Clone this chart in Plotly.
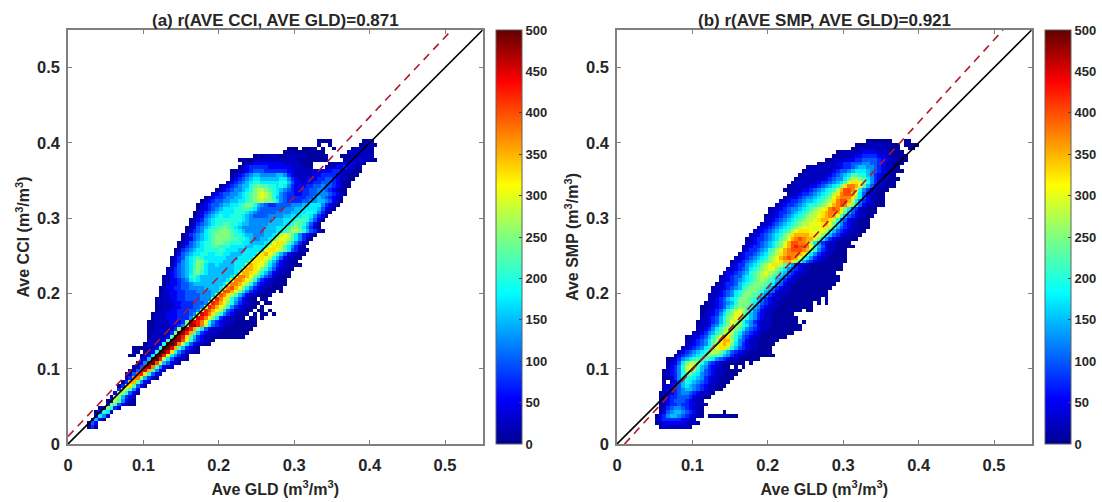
import plotly.graph_objects as go

W, H = 1102, 502
L, R, T, B = 40, 5, 20, 40
BIN = 0.005
N = 110
FIRST_ROW = 4
tick_vals = [0, 0.1, 0.2, 0.3, 0.4, 0.5]
tick_text = ["0", "0.1", "0.2", "0.3", "0.4", "0.5"]
cbar_ticks = [0, 50, 100, 150, 200, 250, 300, 350, 400, 450, 500]
jet = [[0, "#00008f"], [0.111, "#0000ff"], [0.365, "#00ffff"], [0.5, "#7fff7f"], [0.625, "#ffff00"],
       [0.875, "#ff0000"], [1, "#600000"]]

# Counts, one character per bin.
counts = {"0": 0, "z": 8, "1": 25, "2": 50, "3": 75, "4": 100, "5": 125, "6": 150, "7": 175, "8": 200, "9": 225,
          "a": 250, "b": 275, "c": 300, "d": 325, "e": 350, "f": 375, "g": 400, "h": 425, "i": 450, "j": 475, "k": 500}

# panel (a): rows go upward from y-bin 0.02; (first x-bin index, bins)
rows_a = [
 (5, "z3z"), (5, "z42"), (6, "262z"), (7, "2751"), (7, "z3871"), (8, "z1a831"), (10, "3a9421zz"), (10, "z2b9521z"),
 (11, "1ba6321"), (12, "2ca842z"), (13, "3db952"), (13, "z3cd942z"), (14, "z3ee9521"), (15, "13ffb631z"),
 (15, "z14ghd8421"), (16, "z14hie9521"), (17, "z14ijf95211"), (18, "z25jkgb6421z"), (19, "126kkhb74211z"),
 (16, "zz0z127kkhc7531z"), (17, "zz0zz28kkid85311zz"), (17, "zzzz1128kkie96321z"), (20, "z11128kkjfb74211zz"),
 (21, "111129kkjgc85321zz"), (21, "z111129kjhd963211zzzzzzzzz"), (21, "z111113akjhe9632111zzzzzzzz"),
 (21, "zz111113akjhea742111zzzzzzzz"), (21, "zz11112235ajjhfb743211zzzzzzz"), (21, "zz11112223ajihfc8532111zzzzzz"),
 (22, "z1112223335bihfca73211zzz0zz0z"), (22, "z11122233345bihfda853211zz0z0zz0z"),
 (23, "z11122333445bhgecb743111zz0zz0z"), (23, "zz11122333445bhgecb853211zz0z"),
 (23, "zz111223334445bhgeca853211zz0zz0"), (23, "z11122334444555bhfdb86421zz0zz"),
 (24, "z11223344445556bgfdb964211zzzz"),
 (24, "z112233444555566cggeca753211zzz0z"), (24, "z1223344555566667cfgeca753211zzzz"),
 (25, "z1223445666666667cffecb853211zzzz"), (25, "z12234578766666667cffecb853211zzz"),
 (25, "z123456897666666667cffeca864311zzz"), (26, "12345679a8766666667ceedca864211zz"),
 (26, "z1345679a97666666677ceedca864211zz"), (27, "1245679a976676666777cedcca753211zzz"),
 (27, "z235678aa877776667777cddcb864211zz"), (27, "z134678987777776667777cddcb864211zz"),
 (28, "z245677887788776667777cdecb864211zz"), (28, "z13456778888987776677777cddcb974311z"),
 (29, "z13456788998887777667778cddb97531z"), (29, "z124567889aa9988877666679cddb97531z"),
 (30, "z12456789aaaa998876556679bccb97531z"), (30, "z13456789aaaa988766555667 9bcb975321z"),
 (31, "z13457899aaa98765555566 6778 9bba86431z"), (31, "z1245678 99a9876 5555556 66778 9aa97531z"),
 (32, "z1345678 89988766 5555566 66778 a98642z"), (32, "z1235678 88888876 5555556 667778 998642z"),
 (33, "z124567 87788876 54444555 566777 887532z"), (33, "z123456 777788876 54444455 556677 887531z"),
 (34, "z12345 6777889987 54444445 556677 776421z"), (34, "z12344 566778 9aa8 6543344445 55667 775321z"),
 (35, "z123445566 77 89abbaa975 43333445566 5421z"), (36, "z1233 4556 678 9abcba8 65433333445 654321z"),
 (38, "1234455678 9abcba875 433223344555 4321z"), (39, "z1234556 78abba98765 43223344554321zz"),
 (40, "z1234566 89a9988 78753 22233445 44321zz"), (42, "1234567 887777788 642 21 22334443 21zz"),
 (43, "12345 6776666677 532 1122233443211zz"), (43, "z1234 566555566 532 1111 1223333 211zzz"),
 (43, "zz112 344433 33332 2 1111111 222332 11zzz"),
 (45, "z123333322222211 11zz000z1122321zz"), (46, "z112222222211111zzz0000zz1122211z"),
 (45, "zzzzz11111111111zzzzzzzz0000z111211zz"), (49, "z1z1111zz11111zzzzzz000zzz111111"),
 (57, "zzzzzzzzzzz000000111111z"), (58, "zzz0zzzz0z00z0000z1111z"), (66, "z00z0000000zz11z"), (66, "zzzz00000000z11"),
]

# panel (b): same layout as panel (a)
rows_b = [
 (11, "z1111111z"), (10, "z1222222111z"), (10, "12333332211"), (10, "z23566543211z0zzzzzzzz"),
 (11, "z2456654321z00000z"), (11, "z1345543211z"), (11, "z12334332211z"), (11, "11234443211z"),
 (11, "z12334443211zz"), (11, "z122345543211zz"), (12, "12234566543211zz"), (12, "11234676543211zzz"),
 (12, "z01246876543211zzz"), (12, "z11357887653211zzzz"), (12, "z123589a87543211zzzz"),
 (12, "z12358bca86432111zzzz"), (13, "12358bcb9653211zz0z0z"), (13, "z1247abba8643211zzzzz0z"),
 (13, "z11356789998754 3211zzzzzz"), (15, "z234567 89aa98 6532 11zzzzzzzz"), (16, "z234567 8abba864 3211zzzzzz"),
 (17, "11234578acddb8643211zzzz"), (18, "11234579bdeda753211zzzzz"), (18, "11234579bceeb854211zzzzzz"),
 (18, "z1123468aceda8643211zzzzzzz"), (20, "11235689bcb97543211zzzzzzzz"),
 (21, "1123579abba97543211zzzzzzzzz"), (21, "z1124579abba97542111zzzzzzzz"),
 (21, "z1123468acba86532111zzzzzzz0z"), (22, "1123468abcba8653211zzzzzzz"),
 (22, "z1123579acca8653211zzzzzz"), (22, "z1123468abcb97542111zzzzzzz0zz"),
 (22, "zz11234679aa986532111zzzzzzzzz"), (23, "z11234568aaa97643211zzzzzzzzz0z0z"),
 (24, "11234678aaa986532111zzzzzzzzzz0z"), (24, "z11234578aaa986532111zzzzzzzzzzz"),
 (25, "112345789aaa986542111zzzzzzzzzz"), (25, "z112345689aaa98653211zzzzzzzzzzz"),
 (26, "z123346789aaa98754211zzzzzzzzzzz"), (27, "1123456789aba98653211zzzzzzzzzzz"),
 (27, "z123446789abba98653211zzzzzzzzzz"), (28, "122345689abcba97643211zzzzzzzz"),
 (29, "112345789abcca97543211zzzzzzzzz"), (30, "12335678abcddb9753211zzzzzzzzz"),
 (30, "z123456789abcdeedb9643211zzzzzz0"), (31, "112345678abcefgfec9753211zzzzz"),
 (32, "123345679abdefffeda753211zzzz"), (33, "123345689bcefgggfeb853211zzz"),
 (33, "z123345679aceghggfc964211zzzzz"), (34, "112345679aceggffeb753211zzzz"),
 (34, "z123345679acefgfeeca753211zzzz"), (35, "112345678abdeeeedcca8643211zzz"),
 (36, "1123456789bcdddccccb8643211zzz"), (37, "1223456789abcccccddb9643211zzz"),
 (38, "1123456789abbcccdeca753211zzz"), (39, "1123456789abbcdeedb854211zzz"),
 (39, "z1123456789abbcdefec9643211zz"), (40, "11233456789abcdeffec964211zzz"),
 (40, "z11234556789abcdfgfda74311zzz"), (42, "112334567889abcefgfda74211zzz"),
 (43, "112334566789abdfggeb75321zzz"), (44, "112234556789acefffda74211zz"),
 (45, "z11233456789bdfggeb7421zzz"), (44, "zz111223456789beggfc85311zzz"),
 (45, "z1111122345678adffec964211zzz"), (46, "z11111123345679cddca85321zzz"),
 (47, "z11111112345579bba9753211zzz"), (48, "z1111111234567998865 3211zz"),
 (49, "z111111123445677765432 11zzz"), (50, "z1111111123345665543211zz"),
 (53, "zz111223344455443211zzz"), (55, "zz11112233444432211zzz"),
 (57, "zz111122333322 11zzzz"), (58, "zz111112222111zzzz"),
 (62, "zz11111111zzz00zz"), (63, "zzzz1111zzzz0zzzz"), (66, "zzzzzzz000zz"),
]

title_a = "(a) r(AVE CCI, AVE GLD)=0.871"
title_b = "(b) r(AVE SMP, AVE GLD)=0.921"
ylabel_a = "Ave CCI (m<sup>3</sup>/m<sup>3</sup>)"
ylabel_b = "Ave SMP (m<sup>3</sup>/m<sup>3</sup>)"
xlabel = "Ave GLD (m<sup>3</sup>/m<sup>3</sup>)"
line_x = [0, 0.55]
fit_a_x, fit_a_y = [0, 0.509], [0.01, 0.55]
fit_b_x, fit_b_y = [0.01, 0.512], [0, 0.55]
axis_centers = [(i + 0.5) * BIN for i in range(N)]


def px(p):
    return (p - L) / (W - L - R)


def py(p):
    return 1 - (p - T) / (H - T - B)


def grid(rows):
    z = [[None] * N for _ in range(N)]
    for r, (start, bins) in enumerate(rows):
        for c, ch in enumerate(bins.replace(" ", "")):
            if counts[ch]:
                z[r + FIRST_ROW][start + c] = counts[ch]
    return z


FONT = "Liberation Sans, Arial, sans-serif"
INK = "#262626"
fig = go.Figure()


def panel(n, rows, fx, fy, cax):
    xa, ya = ("x", "y") if n == 1 else ("x2", "y2")
    fig.add_trace(go.Heatmap(x=axis_centers, y=axis_centers, z=grid(rows), coloraxis=cax,
                             xaxis=xa, yaxis=ya, hoverongaps=False))
    fig.add_trace(go.Scatter(x=line_x, y=line_x, mode="lines", xaxis=xa, yaxis=ya,
                             line=dict(color="#000000", width=1.6), showlegend=False))
    fig.add_trace(go.Scatter(x=fx, y=fy, mode="lines", xaxis=xa, yaxis=ya,
                             line=dict(color="#b2182b", width=1.6, dash="8px,6px"), showlegend=False))


panel(1, rows_a, fit_a_x, fit_a_y, "coloraxis")
panel(2, rows_b, fit_b_x, fit_b_y, "coloraxis2")

axis = dict(range=[0, 0.55], tickvals=tick_vals, ticktext=tick_text, ticks="inside", ticklen=4, tickwidth=1,
            tickcolor="#808080", linecolor="#808080", linewidth=1.5, mirror="ticks", showgrid=False, zeroline=False,
            tickfont=dict(family=FONT, size=16.5, color=INK, weight="bold"),
            title_font=dict(family=FONT, size=16, color=INK, weight="bold"))


def cax(x):
    return dict(cmin=0, cmax=500, colorscale=jet, colorbar=dict(
        x=px(x), xanchor="left", xref="paper", y=py(237), yanchor="middle", thickness=26, thicknessmode="pixels",
        len=414, lenmode="pixels", xpad=0, ypad=0, tickvals=cbar_ticks, ticks="inside", ticklen=3, tickcolor="#404040",
        outlinewidth=1, outlinecolor="#606060", tickfont=dict(family=FONT, size=13, color=INK, weight="bold")))


fig.update_layout(
    width=W, height=H, margin=dict(l=L, r=R, t=T, b=B, autoexpand=False), plot_bgcolor="white", paper_bgcolor="white",
    showlegend=False, coloraxis=cax(496), coloraxis2=cax(1045),
    xaxis=dict(axis, domain=[px(68), px(482.7)], anchor="y", ticklabelstandoff=5, title=dict(text=xlabel, standoff=11)),
    yaxis=dict(axis, domain=[py(444), py(30)], anchor="x", ticklabelstandoff=3, title=dict(text=ylabel_a, standoff=3)),
    xaxis2=dict(axis, domain=[px(617), px(1031.7)], anchor="y2", ticklabelstandoff=5, title=dict(text=xlabel, standoff=11)),
    yaxis2=dict(axis, domain=[py(444), py(30)], anchor="x2", ticklabelstandoff=3, title=dict(text=ylabel_b, standoff=3)),
    annotations=[
        dict(text="<b>" + t + "</b>", x=px(x), y=py(20), xref="paper", yref="paper", showarrow=False, xanchor="center",
             yanchor="middle", font=dict(family=FONT, size=17, color=INK)) for t, x in [(title_a, 275), (title_b, 824)]
    ],
)

fig.write_html("out.html", config={"displayModeBar": False},
               post_script="document.body.style.margin='0';document.documentElement.style.overflow='hidden';")
